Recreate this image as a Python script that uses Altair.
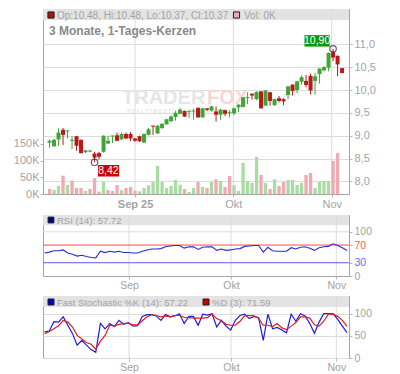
import altair as alt
import pandas as pd

# ---------------- data ----------------
opens = [8.85, 8.77, 8.92, 9.13, 9.10, 8.89, 8.99, 8.91, 8.64, 8.66,
         8.61, 8.62, 8.65, 8.83, 8.99, 9.01, 8.92, 9.04, 9.04, 8.94,
         8.99, 8.85, 9.02, 9.22, 9.05, 9.17, 9.25, 9.32, 9.41, 9.48,
         9.54, 9.53, 9.53, 9.61, 9.40, 9.60, 9.55, 9.53, 9.46, 9.56,
         9.50, 9.49, 9.62, 9.63, 9.83, 9.92, 9.80, 9.97, 9.66, 9.95,
         9.67, 9.82, 9.80, 9.89, 10.12, 10.00, 10.18, 10.20, 10.31, 10.20,
         10.35, 10.43, 10.49, 10.83, 10.75, 10.48]
highs = [8.92, 8.93, 9.16, 9.17, 9.12, 8.99, 8.99, 8.92, 8.69, 8.69,
         8.65, 8.65, 9.01, 9.00, 9.00, 9.07, 9.07, 9.07, 9.08, 8.95,
         9.00, 9.05, 9.17, 9.22, 9.23, 9.28, 9.37, 9.45, 9.54, 9.61,
         9.55, 9.55, 9.59, 9.62, 9.61, 9.60, 9.66, 9.64, 9.59, 9.57,
         9.56, 9.62, 9.69, 9.85, 9.95, 9.92, 9.97, 9.98, 10.00, 9.96,
         9.81, 9.87, 9.82, 10.09, 10.12, 10.20, 10.32, 10.33, 10.36, 10.37,
         10.47, 10.52, 10.82, 10.90, 10.75, 10.48]
lows = [8.74, 8.76, 8.78, 8.80, 8.94, 8.71, 8.67, 8.61, 8.62, 8.64,
        8.42, 8.48, 8.63, 8.82, 8.84, 8.88, 8.91, 8.93, 8.88, 8.87,
        8.86, 8.85, 9.01, 9.02, 9.04, 9.15, 9.24, 9.30, 9.33, 9.47,
        9.41, 9.39, 9.35, 9.40, 9.40, 9.54, 9.53, 9.31, 9.35, 9.43,
        9.40, 9.45, 9.52, 9.62, 9.69, 9.79, 9.78, 9.59, 9.65, 9.66,
        9.65, 9.73, 9.67, 9.80, 9.88, 9.93, 10.12, 10.06, 9.90, 9.90,
        10.14, 10.41, 10.41, 10.63, 10.30, 10.37]
closes = [8.89, 8.91, 9.07, 9.02, 9.11, 8.91, 8.78, 8.62, 8.68, 8.67,
          8.52, 8.54, 9.00, 8.89, 9.00, 8.89, 9.04, 8.94, 8.94, 8.89,
          8.88, 9.04, 9.14, 9.20, 9.22, 9.26, 9.36, 9.42, 9.50, 9.57,
          9.42, 9.54, 9.55, 9.40, 9.60, 9.57, 9.64, 9.46, 9.57, 9.48,
          9.51, 9.60, 9.68, 9.84, 9.84, 9.88, 9.96, 9.60, 9.99, 9.76,
          9.80, 9.76, 9.75, 10.08, 9.98, 10.19, 10.28, 10.11, 9.99, 10.30,
          10.47, 10.50, 10.81, 10.71, 10.56, 10.37]
volumes_k = [15, 12, 24, 55, 27, 40, 18, 18, 9, 15,
             48, 7, 36, 12, 9, 27, 12, 18, 21, 10,
             8, 18, 26, 36, 84, 36, 18, 24, 42, 28,
             15, 6, 18, 36, 21, 18, 36, 44, 39, 21,
             54, 26, 9, 93, 39, 33, 111, 57, 33, 15,
             44, 24, 36, 42, 42, 27, 33, 57, 63, 18,
             36, 39, 39, 99, 123, 0]
vol_up = [0, 1, 1, 0, 1, 0, 0, 0, 1, 0,
          0, 0, 1, 0, 0, 0, 1, 0, 0, 0,
          1, 1, 1, 1, 1, 1, 1, 1, 1, 1,
          0, 1, 1, 0, 1, 0, 1, 0, 1, 0,
          0, 1, 1, 1, 1, 1, 1, 0, 1, 0,
          1, 0, 0, 1, 1, 1, 1, 0, 0, 1,
          1, 1, 1, 0, 0, 0]
rsi = [52, 54, 57, 57, 59, 52, 49, 45, 47, 44,
       42, 41, 56, 53, 56, 54, 56, 53, 53, 52,
       52, 56, 59, 61, 61, 62, 66, 68, 69, 69,
       63, 66, 66, 60, 65, 66, 66, 58, 61, 58,
       59, 61, 62, 67, 68, 69, 69, 54, 65, 57,
       56, 56, 56, 64, 61, 65, 66, 63, 58, 64,
       66, 67, 73, 69, 64, 57.72]
stoch_k = [59, 61, 82, 81, 93, 74, 55, 29, 40, 29,
           19, 13, 78, 66, 78, 71, 85, 76, 80, 72,
           73, 94, 98, 98, 95, 85, 98, 93, 95, 100,
           78, 94, 94, 74, 99, 97, 100, 70, 85, 72,
           63, 85, 96, 99, 89, 94, 91, 40, 99, 66,
           69, 63, 57, 99, 83, 100, 95, 78, 56, 81,
           100, 100, 100, 87, 72, 57.22]
stoch_d = [55, 60, 66, 73, 85, 81, 70, 51, 43, 35,
           31, 20, 38, 51, 74, 72, 76, 78, 78, 75,
           75, 84, 93, 98, 96, 93, 95, 93, 96, 96,
           92, 91, 90, 90, 90, 91, 99, 89, 84, 76,
           74, 74, 83, 95, 96, 95, 90, 74, 74, 71,
           78, 68, 64, 72, 80, 93, 93, 90, 75, 72,
           83, 99, 99, 94, 85, 71.59]

price_ticks = [8.0, 8.5, 9.0, 9.5, 10.0, 10.5, 11.0]
vol_ticks = [0, 50, 100, 150]
main_month_pos = [19.0, 40.85, 62.7]
main_month_lbl = ["Sep 25", "Okt", "Nov"]
low_month_pos = [18.15, 40.07, 62.7]
low_month_lbl = ["Sep", "Okt", "Nov"]
rsi_levels = [100, 70, 30]
rsi_ticks = [0, 30, 70, 100]
stoch_ticks = [0, 50, 100]
title_text = "3 Monate, 1-Tages-Kerzen"

# ---------------- styling ----------------
FONT = "Liberation Sans"
W = 306
H_MAIN, H_RSI, H_STO = 185, 61, 62
UP, DOWN = "#3fa535", "#b81a1a"
VUP, VDOWN = "#a9dca2", "#f1a9b2"
GRID = "#dcdcdc"
TXT = "#a3a3a3"
TICK = "#b5b5b5"
BAND = "#e3e3e3"

n = len(closes)
xs = alt.Scale(domain=[-0.34, 65.43], nice=False, zero=False)
pscale = alt.Scale(domain=[7.726, 11.772], nice=False, zero=False)
vscale = alt.Scale(domain=[0, 554], nice=False)


def label_expr(pos, lbl):
    s = ""
    for k in range(len(pos) - 1):
        s += f"datum.value < {(pos[k] + pos[k + 1]) / 2} ? '{lbl[k]}' : "
    return s + f"'{lbl[-1]}'"


def month_axis(pos, lbl, size, bold_first):
    weight = "normal"
    if bold_first:
        weight = {"condition": {"test": f"datum.value < {(pos[0] + pos[1]) / 2}", "value": "bold"},
                  "value": "normal"}
    return alt.Axis(values=pos, labelExpr=label_expr(pos, lbl), grid=False, domain=False,
                    tickSize=3, tickColor=TICK, labelColor=TXT, labelFontSize=size,
                    labelPadding=1, labelFlush=False, labelOverlap=False, title=None,
                    labelFontWeight=weight)


main_xaxis = month_axis(main_month_pos, main_month_lbl, 11, True)
low_xaxis = month_axis(low_month_pos, low_month_lbl, 10.5, False)

fmt = lambda v: f"{v:.2f}".replace(".", ",")

df = pd.DataFrame({"i": list(range(n)), "open": opens, "high": highs, "low": lows,
                   "close": closes, "vol": volumes_k})
df["ccol"] = [UP if c >= o else DOWN for o, c in zip(opens, closes)]
df["vcol"] = [VUP if u else VDOWN for u in vol_up]
top, bot = [], []
for o, c in zip(opens, closes):
    t, b = max(o, c), min(o, c)
    if t - b < 0.022:
        m = (t + b) / 2
        t, b = m + 0.011, m - 0.011
    top.append(t)
    bot.append(b)
df["btop"] = top
df["bbot"] = bot

one = pd.DataFrame({"a": [0]})


def X(field):
    return alt.X(field, type="quantitative", scale=xs, axis=main_xaxis)


# ---------------- main panel ----------------
band = alt.Chart(one).mark_rect(color=BAND).encode(
    x=alt.value(0), x2=alt.value(W), y=alt.value(0), y2=alt.value(11))

vgrid = alt.Chart(pd.DataFrame({"pos": main_month_pos})).mark_rule(
    color=GRID, strokeWidth=1).encode(x=X("pos"))

wm1 = alt.Chart(one).mark_text(text="TRADER", font=FONT, fontSize=20, fontWeight="bold",
                               color="#e6e6e6", align="left", baseline="middle").encode(
    x=alt.value(79), y=alt.value(89))
wm2 = alt.Chart(one).mark_text(text="FOX", font=FONT, fontSize=20, fontWeight="bold",
                               color="#f7d6d6", align="left", baseline="middle").encode(
    x=alt.value(164), y=alt.value(89))
wm3 = alt.Chart(one).mark_text(text="R E A L T I M E   S T O C K   S C R E E N E R", font=FONT,
                               fontSize=5, fontWeight="bold", color="#e8e8e8",
                               align="left", baseline="middle").encode(
    x=alt.value(84), y=alt.value(102))

vol = alt.Chart(df).mark_bar(size=3.3).encode(
    x=X("i"),
    y=alt.Y("vol:Q", scale=vscale,
            axis=alt.Axis(orient="left", values=vol_ticks, labelExpr="datum.value + 'K'",
                          grid=False, domain=False, tickSize=3, tickColor=TICK,
                          labelColor=TXT, labelFontSize=11, labelPadding=1, title=None)),
    color=alt.Color("vcol:N", scale=None))

price_axis = alt.Axis(orient="right", values=price_ticks,
                      labelExpr="replace(format(datum.value, '.1f'), '.', ',')",
                      grid=True, gridColor=GRID, domain=False, tickSize=3, tickColor=TICK,
                      labelColor=TXT, labelFontSize=11, labelPadding=2, title=None)

wicks = alt.Chart(df).mark_rule(strokeWidth=1).encode(
    x=X("i"), y=alt.Y("low:Q", scale=pscale, axis=price_axis), y2="high:Q",
    color=alt.Color("ccol:N", scale=None))
bodies = alt.Chart(df).mark_bar(size=4).encode(
    x=X("i"), y=alt.Y("bbot:Q", scale=pscale, axis=price_axis), y2="btop:Q",
    color=alt.Color("ccol:N", scale=None))

hi_i = highs.index(max(highs))
lo_i = lows.index(min(lows))
marks = pd.DataFrame({
    "i": [hi_i, lo_i], "p": [highs[hi_i], lows[lo_i]],
    "txt": [fmt(highs[hi_i]), fmt(lows[lo_i])], "bcol": ["#0a9a0a", "#cc0000"]})
marks["x1"] = [hi_i - 6.35, lo_i + 0.75]
marks["x2"] = [hi_i - 0.75, lo_i + 5.45]
marks["y1"] = [highs[hi_i] + 0.05, lows[lo_i] - 0.06]
marks["y2"] = [highs[hi_i] + 0.30, lows[lo_i] - 0.31]
marks["xm"] = (marks["x1"] + marks["x2"]) / 2
marks["ym"] = (marks["y1"] + marks["y2"]) / 2

lbl_box = alt.Chart(marks).mark_rect().encode(
    x=X("x1"), x2="x2", y=alt.Y("y1:Q", scale=pscale, axis=price_axis), y2="y2:Q",
    color=alt.Color("bcol:N", scale=None))
lbl_txt = alt.Chart(marks).mark_text(font=FONT, fontSize=10.5, color="white",
                                     baseline="middle", align="center").encode(
    x=X("xm"), y=alt.Y("ym:Q", scale=pscale, axis=price_axis), text="txt:N")
circ = alt.Chart(marks).mark_point(shape="circle", size=42, filled=False, color="#222222",
                                   strokeWidth=1.2).encode(
    x=X("i"), y=alt.Y("p:Q", scale=pscale, axis=price_axis))

price_layer = alt.layer(wicks, bodies, lbl_box, lbl_txt, circ)

head_txt = (f"Op:{opens[-1]:.2f}, Hi:{highs[-1]:.2f}, Lo:{lows[-1]:.2f}, "
            f"Cl:{closes[-1]:.2f}")
sq1 = alt.Chart(one).mark_square(size=38, color="#aa1111", stroke="#222", strokeWidth=1,
                                 opacity=1).encode(x=alt.value(8), y=alt.value(6))
t1 = alt.Chart(one).mark_text(text=head_txt, font=FONT, fontSize=10, color=TXT,
                              align="left", baseline="middle").encode(
    x=alt.value(14), y=alt.value(6.5))
sq2 = alt.Chart(one).mark_square(size=38, color=VDOWN, stroke="#222", strokeWidth=1,
                                 opacity=1).encode(x=alt.value(193.5), y=alt.value(6))
t2 = alt.Chart(one).mark_text(text=f"Vol: {volumes_k[-1]}K", font=FONT, fontSize=10, color=TXT,
                              align="left", baseline="middle").encode(
    x=alt.value(201), y=alt.value(6.5))
t3 = alt.Chart(one).mark_text(text=title_text, font=FONT, fontSize=12, fontWeight="bold",
                              color="#8a8a8a", align="left", baseline="middle").encode(
    x=alt.value(6), y=alt.value(21.5))

main = alt.layer(band, vgrid, wm1, wm2, wm3, vol, price_layer, sq1, t1, sq2, t2, t3).resolve_scale(
    y="independent").properties(width=W, height=H_MAIN)

# ---------------- RSI panel ----------------
low_df = pd.DataFrame({"i": list(range(n)), "rsi": rsi, "k": stoch_k, "d": stoch_d})


def XL(field):
    return alt.X(field, type="quantitative", scale=xs, axis=low_xaxis)


rsi_scale = alt.Scale(domain=[0, 138], nice=False)
rsi_axis = alt.Axis(orient="right", values=rsi_ticks, grid=False, domain=False, tickSize=3,
                    tickColor=TICK, labelFontSize=10.5, labelPadding=2, title=None,
                    labelColor={"condition": [{"test": "datum.value == 70", "value": "#ff5c5c"},
                                              {"test": "datum.value == 30", "value": "#6a6af5"}],
                                "value": TXT})
band_r = alt.Chart(one).mark_rect(color=BAND).encode(
    x=alt.value(0), x2=alt.value(W), y=alt.value(0), y2=alt.value(10.3))
vgrid_r = alt.Chart(pd.DataFrame({"pos": low_month_pos})).mark_rule(color=GRID).encode(x=XL("pos"))
lev = pd.DataFrame({"lv": rsi_levels, "c": ["#dcdcdc", "#ff4a4a", "#5a5aea"]})
lev_r = alt.Chart(lev).mark_rule(strokeWidth=1).encode(
    y=alt.Y("lv:Q", scale=rsi_scale, axis=rsi_axis), color=alt.Color("c:N", scale=None))
rsi_line = alt.Chart(low_df).mark_line(color="#2b2bd0", strokeWidth=1.1).encode(
    x=XL("i"), y=alt.Y("rsi:Q", scale=rsi_scale, axis=rsi_axis))
sq_r = alt.Chart(one).mark_square(size=34, color="#000090", stroke="#222", strokeWidth=1,
                                  opacity=1).encode(x=alt.value(8), y=alt.value(5))
t_r = alt.Chart(one).mark_text(text=f"RSI (14): {rsi[-1]:.2f}", font=FONT, fontSize=9.5,
                               color=TXT, align="left", baseline="middle").encode(
    x=alt.value(14), y=alt.value(5.5))
rsi_panel = alt.layer(band_r, vgrid_r, lev_r, rsi_line, sq_r, t_r).properties(
    width=W, height=H_RSI)

# ---------------- Stochastic panel ----------------
sto_scale = alt.Scale(domain=[0, 140], nice=False)
sto_axis = alt.Axis(orient="right", values=stoch_ticks, grid=True, gridColor=GRID, domain=False,
                    tickSize=3, tickColor=TICK, labelColor=TXT, labelFontSize=10.5,
                    labelPadding=2, title=None)
band_s = alt.Chart(one).mark_rect(color=BAND).encode(
    x=alt.value(0), x2=alt.value(W), y=alt.value(0), y2=alt.value(11))
vgrid_s = alt.Chart(pd.DataFrame({"pos": low_month_pos})).mark_rule(color=GRID).encode(x=XL("pos"))
k_line = alt.Chart(low_df).mark_line(color="#1c1ce0", strokeWidth=1.2).encode(
    x=XL("i"), y=alt.Y("k:Q", scale=sto_scale, axis=sto_axis))
d_line = alt.Chart(low_df).mark_line(color="#e01c1c", strokeWidth=1.2).encode(
    x=XL("i"), y=alt.Y("d:Q", scale=sto_scale, axis=sto_axis))
sq_k = alt.Chart(one).mark_square(size=36, color="#0000cc", stroke="#222", strokeWidth=1,
                                  opacity=1).encode(x=alt.value(8), y=alt.value(6))
t_k = alt.Chart(one).mark_text(text=f"Fast Stochastic %K (14): {stoch_k[-1]:.2f}", font=FONT,
                               fontSize=9.5, color=TXT, align="left", baseline="middle").encode(
    x=alt.value(14), y=alt.value(6.5))
sq_d = alt.Chart(one).mark_square(size=36, color="#cc0000", stroke="#222", strokeWidth=1,
                                  opacity=1).encode(x=alt.value(163), y=alt.value(6))
t_d = alt.Chart(one).mark_text(text=f"%D (3): {stoch_d[-1]:.2f}", font=FONT,
                               fontSize=9.5, color=TXT, align="left", baseline="middle").encode(
    x=alt.value(169), y=alt.value(6.5))
sto_panel = alt.layer(band_s, vgrid_s, k_line, d_line, sq_k, t_k, sq_d, t_d).properties(
    width=W, height=H_STO)

chart = alt.vconcat(main, rsi_panel, sto_panel, spacing=4).properties(
    padding={"left": 4, "top": 0, "right": 4, "bottom": 0}
).configure(font=FONT).configure_view(stroke="#a5a5a5", strokeWidth=1)

chart.save("out.html", embed_options={"renderer": "svg", "actions": False})
